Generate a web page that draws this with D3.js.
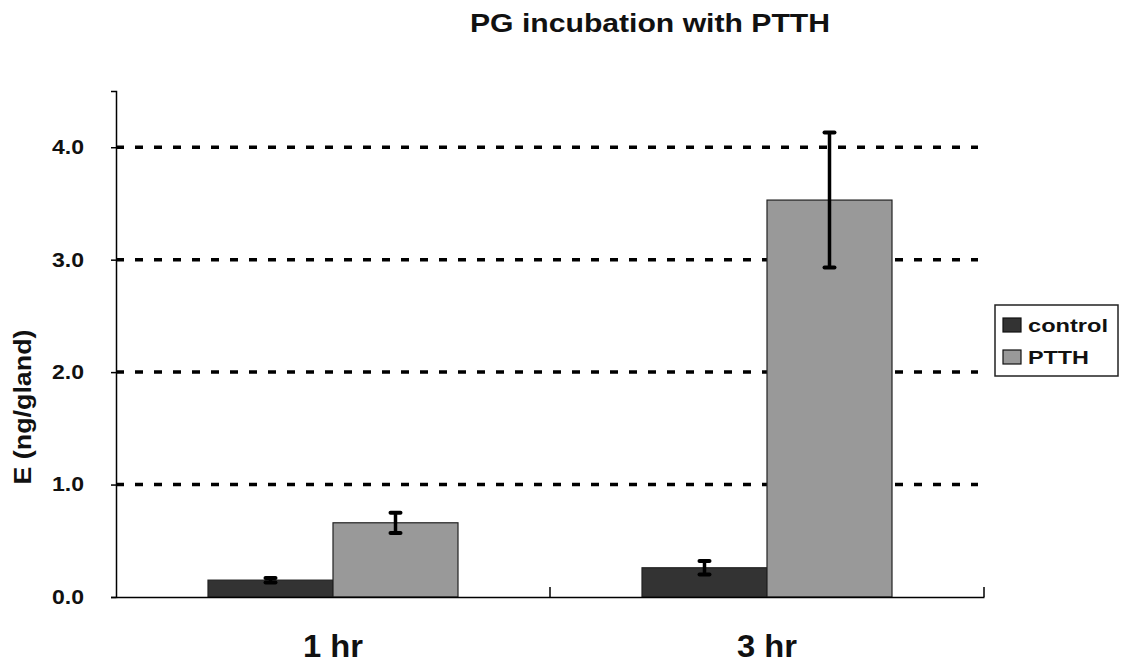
<!DOCTYPE html>
<html>
<head>
<meta charset="utf-8">
<script src="https://d3js.org/d3.v7.min.js"></script>
<style>
  html, body { margin: 0; padding: 0; background: #fff; }
  svg { display: block; font-family: "Liberation Sans", Arial, sans-serif; }
</style>
</head>
<body>
<svg id="chart" width="1125" height="663"></svg>
<script>
// Ecdysone (E) released by prothoracic glands, with and without PTTH
const categories = ["1 hr", "3 hr"];
const seriesNames = ["control", "PTTH"];
const controlValues = [0.15, 0.26];
const ptthValues = [0.66, 3.53];
const controlErrors = [0.02, 0.06];
const ptthErrors = [0.09, 0.60];
const yTicks = [0, 1, 2, 3, 4];
const seriesColors = ["#333333", "#999999"];

const svg = d3.select("#chart");
const margin = { left: 116, right: 141, top: 91, bottom: 66 };
const width = 1125 - margin.left - margin.right;
const height = 663 - margin.top - margin.bottom;

const g = svg.append("g").attr("transform", `translate(${margin.left},${margin.top})`);

const x0 = d3.scaleBand().domain(categories).range([0, width]).paddingInner(0).paddingOuter(0);
const x1 = d3.scaleBand().domain(seriesNames).range([92, x0.bandwidth() - 92]).padding(0);
const y = d3.scaleLinear().domain([0, 4.5]).range([height, 0]);

// Dashed horizontal gridlines
g.append("g")
  .selectAll("line")
  .data(yTicks.filter(d => d > 0))
  .join("line")
  .attr("x1", 0)
  .attr("x2", width - 6)
  .attr("y1", d => y(d))
  .attr("y2", d => y(d))
  .attr("stroke", "#000")
  .attr("stroke-width", 3.5)
  .attr("stroke-dasharray", "8,11");

// Bars
const rows = categories.map((c, i) => ({
  cat: c,
  values: [
    { key: seriesNames[0], v: controlValues[i], e: controlErrors[i] },
    { key: seriesNames[1], v: ptthValues[i], e: ptthErrors[i] }
  ]
}));

const groups = g.append("g").selectAll("g")
  .data(rows)
  .join("g")
  .attr("transform", d => `translate(${x0(d.cat)},0)`);

groups.selectAll("rect")
  .data(d => d.values)
  .join("rect")
  .attr("x", d => x1(d.key))
  .attr("y", d => y(d.v))
  .attr("width", x1.bandwidth())
  .attr("height", d => y(0) - y(d.v))
  .attr("fill", (d, i) => seriesColors[i])
  .attr("stroke", "#222")
  .attr("stroke-width", 1.2);

// Error bars
const eb = groups.selectAll("g.err")
  .data(d => d.values)
  .join("g")
  .attr("class", "err")
  .attr("transform", d => `translate(${x1(d.key) + x1.bandwidth() / 2},0)`);

eb.append("line")
  .attr("x1", 0).attr("x2", 0)
  .attr("y1", d => y(d.v + d.e))
  .attr("y2", d => y(d.v - d.e))
  .attr("stroke", "#000")
  .attr("stroke-width", 3.5);

eb.selectAll("line.cap")
  .data(d => [d.v + d.e, d.v - d.e])
  .join("line")
  .attr("class", "cap")
  .attr("x1", -5).attr("x2", 5)
  .attr("y1", d => y(d)).attr("y2", d => y(d))
  .attr("stroke", "#000")
  .attr("stroke-width", 4)
  .attr("stroke-linecap", "round");

// Y axis
const yAxis = g.append("g")
  .call(d3.axisLeft(y).tickValues(yTicks).tickFormat(d3.format(".1f")).tickSize(5).tickPadding(27));
yAxis.select(".domain").attr("stroke", "#000").attr("stroke-width", 1.5);
yAxis.selectAll(".tick line").attr("stroke", "#000").attr("stroke-width", 1.5);
yAxis.selectAll(".tick text")
  .attr("font-family", "Liberation Sans, Arial, sans-serif")
  .attr("font-size", 20)
  .attr("font-weight", "bold")
  .attr("fill", "#111")
  .attr("textLength", 32)
  .attr("lengthAdjust", "spacingAndGlyphs");

// X axis
const xAxis = g.append("g")
  .attr("transform", `translate(0,${height})`)
  .call(d3.axisBottom(x0).tickSize(0).tickPadding(37));
xAxis.select(".domain").attr("stroke", "#000").attr("stroke-width", 1.5);
xAxis.selectAll(".tick text")
  .attr("font-family", "Liberation Sans, Arial, sans-serif")
  .attr("font-size", 32)
  .attr("font-weight", "bold")
  .attr("fill", "#111")
  .attr("textLength", 60)
  .attr("lengthAdjust", "spacingAndGlyphs");

// Category separator ticks pointing up into the plot
g.append("g")
  .selectAll("line")
  .data([x0.bandwidth(), width])
  .join("line")
  .attr("x1", d => d).attr("x2", d => d)
  .attr("y1", height).attr("y2", height - 10)
  .attr("stroke", "#000")
  .attr("stroke-width", 1.5);

// Title
svg.append("text")
  .attr("x", 650)
  .attr("y", 32)
  .attr("text-anchor", "middle")
  .attr("font-size", 25)
  .attr("font-weight", "bold")
  .attr("fill", "#111")
  .attr("textLength", 360)
  .attr("lengthAdjust", "spacingAndGlyphs")
  .text("PG incubation with PTTH");

// Y axis title
svg.append("text")
  .attr("transform", "translate(31,407) rotate(-90)")
  .attr("text-anchor", "middle")
  .attr("font-size", 23)
  .attr("font-weight", "bold")
  .attr("fill", "#111")
  .attr("textLength", 155)
  .attr("lengthAdjust", "spacingAndGlyphs")
  .text("E (ng/gland)");

// Legend
const legend = svg.append("g").attr("transform", "translate(995,305)");
legend.append("rect")
  .attr("width", 123).attr("height", 71)
  .attr("fill", "#fff")
  .attr("stroke", "#222")
  .attr("stroke-width", 1.5);
const legendTextWidths = [80, 61];
const items = legend.selectAll("g.item")
  .data(seriesNames)
  .join("g")
  .attr("class", "item")
  .attr("transform", (d, i) => `translate(8,${13 + i * 32})`);
items.append("rect")
  .attr("width", 18).attr("height", 14)
  .attr("fill", (d, i) => seriesColors[i])
  .attr("stroke", "#111")
  .attr("stroke-width", 1.2);
items.append("text")
  .attr("x", 25)
  .attr("y", 14)
  .attr("font-size", 19)
  .attr("font-weight", "bold")
  .attr("fill", "#111")
  .attr("textLength", (d, i) => legendTextWidths[i])
  .attr("lengthAdjust", "spacingAndGlyphs")
  .text(d => d);
</script>
</body>
</html>
